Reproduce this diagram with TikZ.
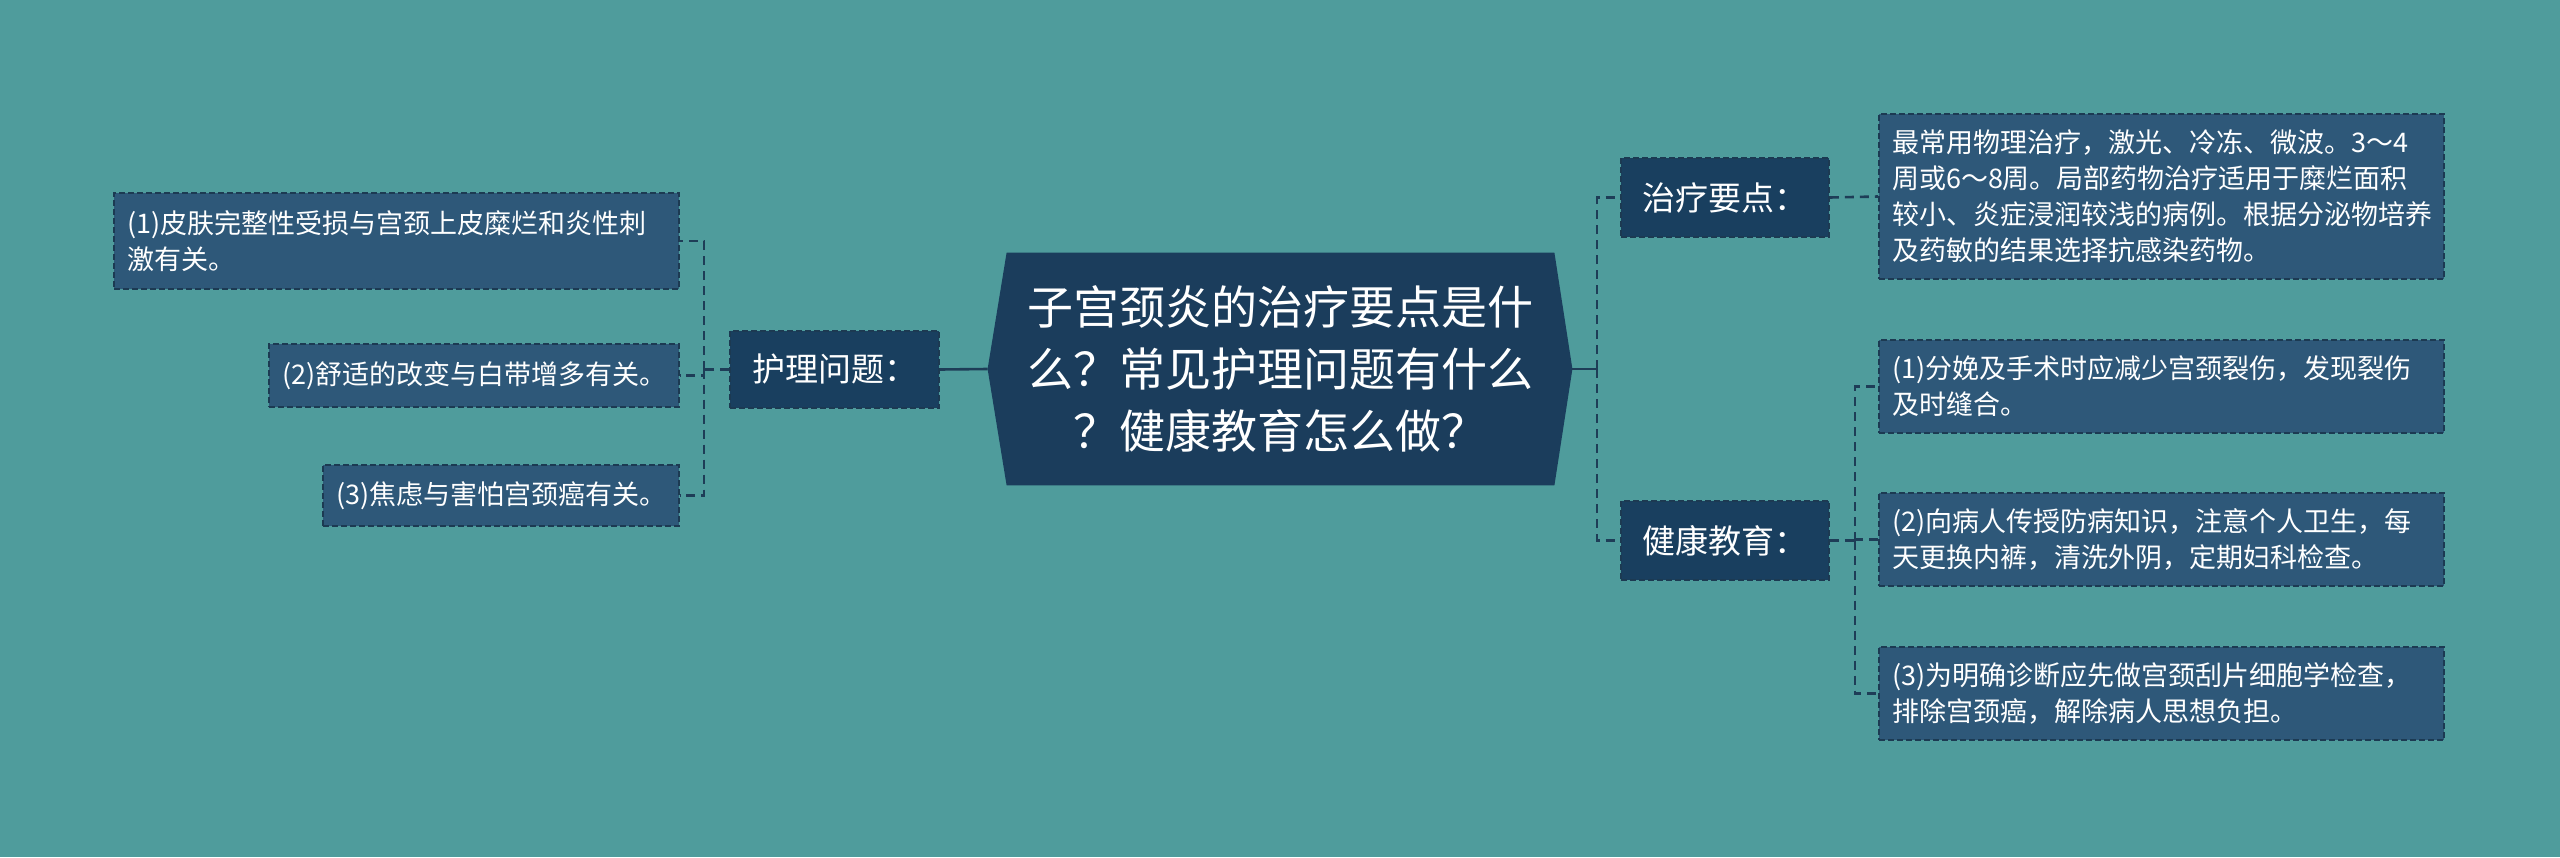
\documentclass[tikz,border=0pt]{standalone}
\usepackage{fontspec}
\setmainfont{Noto Sans CJK SC}
\usetikzlibrary{calc}
\pgfdeclarelayer{bgl}
\pgfdeclarelayer{background}
\pgfsetlayers{bgl,background,main}
\definecolor{bgc}{HTML}{4F9C9C}
\definecolor{hexc}{HTML}{1B3D5C}
\definecolor{branchc}{HTML}{193F5F}
\definecolor{leafc}{HTML}{2E5879}
\definecolor{edgec}{HTML}{1C3A52}
\definecolor{linec}{HTML}{1E3D57}
\tikzset{
  rootnode/.style={text=white, align=center, inner sep=0pt, minimum width=292pt, minimum height=116pt, font=\fontsize{23}{31}\selectfont},
  branchbox/.style={fill=branchc, draw=edgec, dash pattern=on 3pt off 1.5pt, line width=0.8pt, text=white, inner sep=0pt, font=\fontsize{16.5}{20}\selectfont},
  leafbox/.style={fill=leafc, draw=edgec, dash pattern=on 3pt off 1.5pt, line width=0.8pt, text=white, align=left, inner xsep=6.5pt, inner ysep=0pt, font=\fontsize{13.5}{18}\selectfont},
  solidconn/.style={draw=linec, line width=1.3pt},
  dashconn/.style={draw=linec, line width=1.3pt, dash pattern=on 4.5pt off 3pt},
}
\begin{document}
\begin{tikzpicture}[x=0.5pt,y=-0.5pt]
\begin{pgfonlayer}{bgl}
\fill[bgc] (0,0) rectangle (2560,857);
\end{pgfonlayer}
\useasboundingbox (0,0) rectangle (2560,857);

% root
\node[rootnode] (root) at (1280,369) {子宫颈炎的治疗要点是什\\么？常见护理问题有什么\\？健康教育怎么做？};
\begin{pgfonlayer}{background}
\fill[hexc] (root.west) -- ($(root.north west)+(19,0)$) -- ($(root.north east)+(-18,0)$) -- (root.east) -- ($(root.south east)+(-18,0)$) -- ($(root.south west)+(19,0)$) -- cycle;
\end{pgfonlayer}

% left branch
\node[branchbox, minimum width=104.5pt, minimum height=38.5pt] (hl) at (834.5,369.5) {护理问题：};
\node[leafbox, minimum width=282.5pt, minimum height=48pt, text width=269.5pt] (l1) at (396.5,241) {(1)皮肤完整性受损与宫颈上皮糜烂和炎性刺\\激有关。};
\node[leafbox, minimum width=205pt, minimum height=31.5pt, text width=192pt] (l2) at (474,375.5) {(2)舒适的改变与白带增多有关。};
\node[leafbox, minimum width=178pt, minimum height=30.5pt, text width=165pt] (l3) at (501,495.5) {(3)焦虑与害怕宫颈癌有关。};

\coordinate (lj) at (704,369.5);
\draw[solidconn] (root.west) -- (hl.east);
\draw[dashconn] (hl.west) -- (lj);
\draw[dashconn] (lj) |- (l1.east);
\draw[dashconn] (lj) |- (l2.east);
\draw[dashconn] (lj) |- (l3.east);

% right branches
\node[branchbox, minimum width=104pt, minimum height=39.5pt] (tr) at (1725,197.5) {治疗要点：};
\node[branchbox, minimum width=104pt, minimum height=39.5pt] (he) at (1725,540.5) {健康教育：};
\node[leafbox, minimum width=282.5pt, minimum height=82.5pt, text width=269.5pt] (td) at (2161.5,196.5) {最常用物理治疗，激光、冷冻、微波。3～4\\周或6～8周。局部药物治疗适用于糜烂面积\\较小、炎症浸润较浅的病例。根据分泌物培养\\及药敏的结果选择抗感染药物。};
\node[leafbox, minimum width=282.5pt, minimum height=46.5pt, text width=269.5pt] (h1) at (2161.5,386.5) {(1)分娩及手术时应减少宫颈裂伤，发现裂伤\\及时缝合。};
\node[leafbox, minimum width=282.5pt, minimum height=46.5pt, text width=269.5pt] (h2) at (2161.5,539.5) {(2)向病人传授防病知识，注意个人卫生，每\\天更换内裤，清洗外阴，定期妇科检查。};
\node[leafbox, minimum width=282.5pt, minimum height=46.5pt, text width=269.5pt] (h3) at (2161.5,693.5) {(3)为明确诊断应先做宫颈刮片细胞学检查，\\排除宫颈癌，解除病人思想负担。};

\coordinate (rj) at (1597,369);
\draw[solidconn] (root.east) -- (rj);
\draw[dashconn] (rj) |- (tr.west);
\draw[dashconn] (rj) |- (he.west);
\draw[dashconn] (tr.east) -- (td.west);

\coordinate (hj) at (1855,540.5);
\draw[dashconn] (he.east) -- (hj);
\draw[dashconn] (hj) |- (h1.west);
\draw[dashconn] (hj) |- (h2.west);
\draw[dashconn] (hj) |- (h3.west);
\end{tikzpicture}
\end{document}
